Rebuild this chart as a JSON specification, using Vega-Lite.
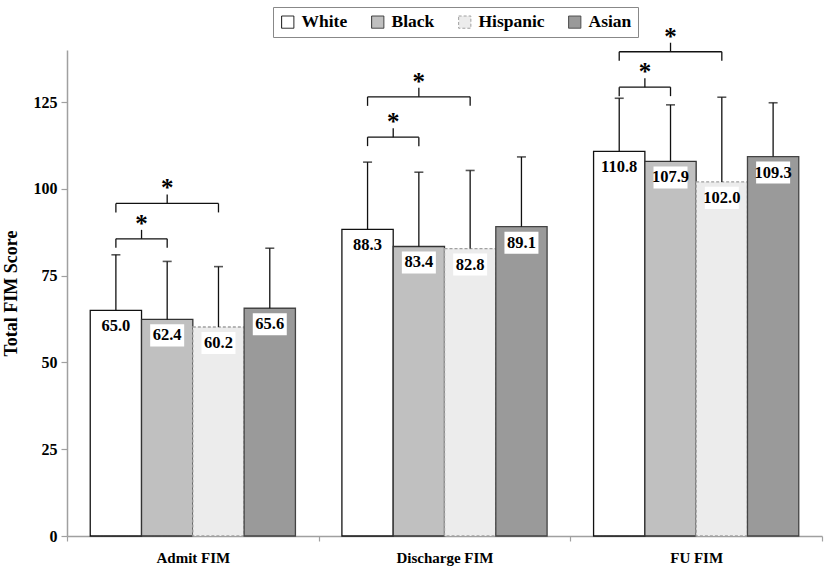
{
  "$schema": "https://vega.github.io/schema/vega-lite/v6.json",
  "width": 755,
  "height": 486,
  "autosize": {"type": "none"},
  "padding": {"left": 67, "top": 50, "right": 9, "bottom": 31},
  "background": "white",
  "config": {
    "view": {"stroke": null},
    "font": "Liberation Serif",
    "axis": {"labelFont": "Liberation Serif", "titleFont": "Liberation Serif", "labelFontWeight": "bold", "titleFontWeight": "bold", "labelColor": "black", "titleColor": "black", "domainColor": "#a0a0a0", "domainWidth": 1.5, "tickColor": "#a0a0a0", "tickWidth": 1.2, "tickSize": 6, "grid": false},
    "legend": {"labelFont": "Liberation Serif", "labelFontWeight": "bold"}
  },
  "datasets": {
    "bars": [
      {"group": "Admit FIM", "race": "White", "value": 65.0, "upper": 81.0},
      {"group": "Admit FIM", "race": "Black", "value": 62.4, "upper": 79.1},
      {"group": "Admit FIM", "race": "Hispanic", "value": 60.2, "upper": 77.6},
      {"group": "Admit FIM", "race": "Asian", "value": 65.6, "upper": 82.9},
      {"group": "Discharge FIM", "race": "White", "value": 88.3, "upper": 107.7},
      {"group": "Discharge FIM", "race": "Black", "value": 83.4, "upper": 104.8},
      {"group": "Discharge FIM", "race": "Hispanic", "value": 82.8, "upper": 105.3},
      {"group": "Discharge FIM", "race": "Asian", "value": 89.1, "upper": 109.2},
      {"group": "FU FIM", "race": "White", "value": 110.8, "upper": 126.1},
      {"group": "FU FIM", "race": "Black", "value": 107.9, "upper": 124.2},
      {"group": "FU FIM", "race": "Hispanic", "value": 102.0, "upper": 126.4},
      {"group": "FU FIM", "race": "Asian", "value": 109.3, "upper": 124.8}
    ],
    "brackets": [
      {"group": "Admit FIM", "from": "White", "to": "Black", "level": 85.6},
      {"group": "Admit FIM", "from": "White", "to": "Hispanic", "level": 95.8},
      {"group": "Discharge FIM", "from": "White", "to": "Black", "level": 114.9},
      {"group": "Discharge FIM", "from": "White", "to": "Hispanic", "level": 126.5},
      {"group": "FU FIM", "from": "White", "to": "Black", "level": 129.3},
      {"group": "FU FIM", "from": "White", "to": "Hispanic", "level": 139.5}
    ]
  },
  "encoding": {
    "x": {
      "field": "group", "type": "nominal",
      "sort": ["Admit FIM", "Discharge FIM", "FU FIM"],
      "scale": {"paddingInner": 0, "paddingOuter": 0},
      "axis": {"title": null, "labelAngle": 0, "labelFontSize": 15, "labelPadding": 9, "tickBand": "extent", "tickSize": 5}
    },
    "y": {
      "field": "value", "type": "quantitative",
      "scale": {"domain": [0, 140], "nice": false},
      "axis": {"title": "Total FIM Score", "titleFontSize": 18, "titlePadding": 13, "labelFontSize": 16, "values": [0, 25, 50, 75, 100, 125], "tickSize": 6, "labelPadding": 4}
    }
  },
  "layer": [
    {
      "data": {"name": "bars"},
      "layer": [
        {
          "mark": {"type": "bar", "strokeWidth": 1.3},
          "encoding": {
            "xOffset": {"field": "race", "type": "nominal", "scale": {"domain": ["White", "Black", "Hispanic", "Asian"], "paddingInner": 0, "paddingOuter": 0.453}},
            "fill": {
              "field": "race", "type": "nominal",
              "scale": {"domain": ["White", "Black", "Hispanic", "Asian"], "range": ["#ffffff", "#c0c0c0", "#ececec", "#9a9a9a"]},
              "legend": {"title": null, "orient": "none", "legendX": 206, "legendY": -43, "direction": "horizontal", "symbolType": "square", "symbolSize": 150, "symbolStrokeColor": "black", "symbolStrokeWidth": 1, "labelFontSize": 17.5, "labelOffset": 5, "columnPadding": 21, "padding": 6, "strokeColor": "#888888", "fillColor": "white"}
            },
            "stroke": {
              "field": "race", "type": "nominal",
              "scale": {"domain": ["White", "Black", "Hispanic", "Asian"], "range": ["#111111", "#333333", "#a0a0a0", "#444444"]},
              "legend": null
            },
            "strokeDash": {
              "field": "race", "type": "nominal",
              "scale": {"domain": ["White", "Black", "Hispanic", "Asian"], "range": [[1, 0], [1, 0], [3, 2], [1, 0]]},
              "legend": null
            }
          }
        },
        {
          "mark": {"type": "rule", "color": "#111111", "strokeWidth": 1.3},
          "encoding": {
            "xOffset": {"field": "race", "type": "nominal"},
            "y2": {"field": "upper"}
          }
        },
        {
          "mark": {"type": "tick", "color": "#111111", "size": 9, "thickness": 1.6},
          "encoding": {
            "xOffset": {"field": "race", "type": "nominal"},
            "y": {"field": "upper", "type": "quantitative"}
          }
        },
        {
          "mark": {"type": "point", "shape": "M-1,-0.65H1V0.65H-1Z", "size": 1156, "filled": true, "fill": "white", "opacity": 1, "strokeWidth": 0, "yOffset": 16},
          "encoding": {
            "xOffset": {"field": "race", "type": "nominal"}
          }
        },
        {
          "mark": {"type": "text", "font": "Liberation Serif", "fontWeight": "bold", "fontSize": 16.5, "color": "black", "baseline": "middle", "dy": 16},
          "encoding": {
            "xOffset": {"field": "race", "type": "nominal"},
            "text": {"field": "value", "type": "quantitative", "format": ".1f"}
          }
        }
      ]
    },
    {
      "data": {"name": "brackets"},
      "transform": [{"fold": ["from", "to"], "as": ["end", "race"]}],
      "layer": [
        {
          "mark": {"type": "line", "color": "#111111", "strokeWidth": 1.3},
          "encoding": {
            "xOffset": {"field": "race", "type": "nominal"},
            "y": {"field": "level", "type": "quantitative"},
            "detail": [{"field": "group"}, {"field": "to"}]
          }
        },
        {
          "mark": {"type": "rule", "color": "#111111", "strokeWidth": 1.3, "y2Offset": 9},
          "encoding": {
            "xOffset": {"field": "race", "type": "nominal"},
            "y": {"field": "level", "type": "quantitative"},
            "y2": {"field": "level"}
          }
        }
      ]
    },
    {
      "data": {"name": "brackets"},
      "transform": [{"filter": "datum.to === 'Black'"}],
      "encoding": {
        "x": {"field": "group", "type": "nominal", "bandPosition": 0.2962},
        "y": {"field": "level", "type": "quantitative"}
      },
      "layer": [
        {
          "mark": {"type": "rule", "color": "#111111", "strokeWidth": 1.3, "y2Offset": -9},
          "encoding": {"y2": {"field": "level"}}
        },
        {
          "mark": {"type": "text", "text": "*", "font": "Liberation Serif", "fontWeight": "bold", "fontSize": 25, "color": "black", "baseline": "alphabetic", "dy": -7}
        }
      ]
    },
    {
      "data": {"name": "brackets"},
      "transform": [{"filter": "datum.to === 'Hispanic'"}],
      "encoding": {
        "x": {"field": "group", "type": "nominal", "bandPosition": 0.3981},
        "y": {"field": "level", "type": "quantitative"}
      },
      "layer": [
        {
          "mark": {"type": "rule", "color": "#111111", "strokeWidth": 1.3, "y2Offset": -9},
          "encoding": {"y2": {"field": "level"}}
        },
        {
          "mark": {"type": "text", "text": "*", "font": "Liberation Serif", "fontWeight": "bold", "fontSize": 25, "color": "black", "baseline": "alphabetic", "dy": -7}
        }
      ]
    }
  ]
}
